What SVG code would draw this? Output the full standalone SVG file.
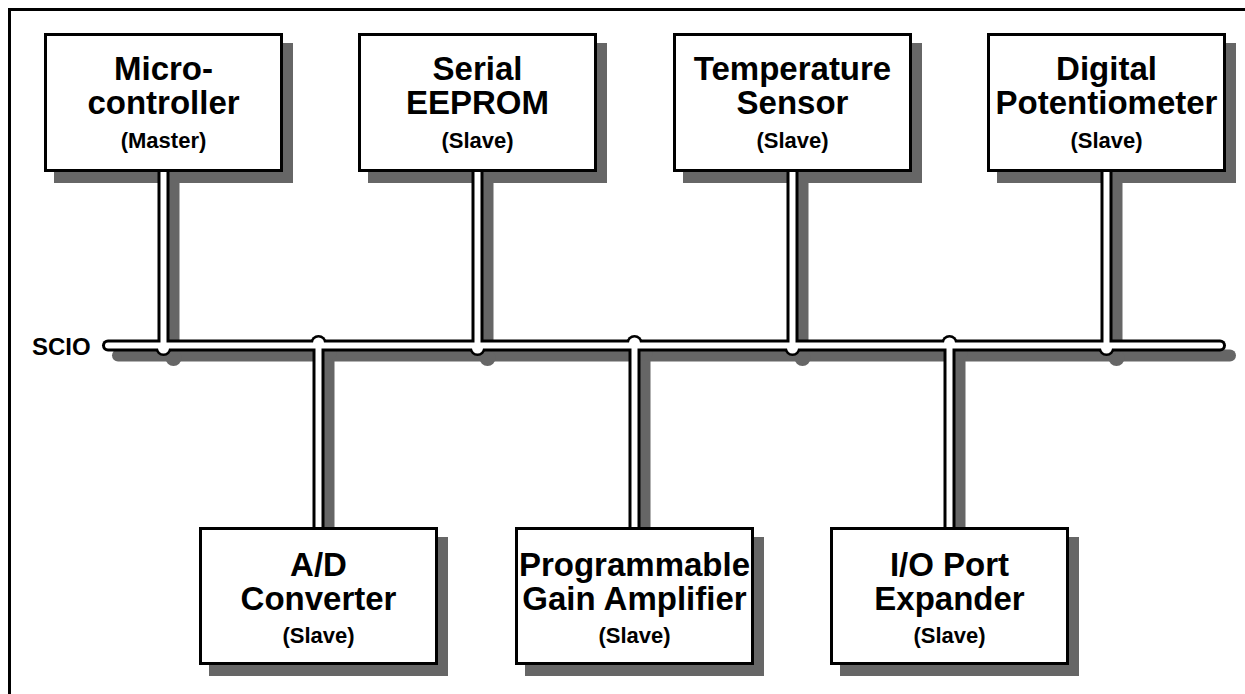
<svg xmlns="http://www.w3.org/2000/svg" width="1245" height="694" viewBox="0 0 1245 694">
<style>
.sh{fill:#666666}
.box{fill:#ffffff;stroke:#000000;stroke-width:3}
.t{font-family:"Liberation Sans",Arial,Helvetica,sans-serif;font-weight:bold;fill:#000000;text-anchor:middle}
.big{font-size:33px}
.small{font-size:22px}
.lsh{stroke:#666666;stroke-width:12;fill:none}
.lb{stroke:#000000;stroke-width:12;fill:none}
.lw{stroke:#ffffff;stroke-width:6;fill:none}
</style>
<rect x="0" y="0" width="1245" height="694" fill="#ffffff"/>
<rect x="9.5" y="9.5" width="1250" height="700" fill="none" stroke="#000000" stroke-width="3"/>

<g id="shadows">
<rect class="sh" x="54" y="43" width="239" height="140"/>
<rect class="sh" x="368" y="43" width="239" height="140"/>
<rect class="sh" x="683" y="43" width="239" height="140"/>
<rect class="sh" x="997" y="43" width="239" height="140"/>
<rect class="sh" x="209" y="537" width="239" height="139"/>
<rect class="sh" x="525" y="537" width="239" height="139"/>
<rect class="sh" x="840" y="537" width="239" height="139"/>
<g class="lsh">
<line x1="118" y1="355.5" x2="1230" y2="355.5" stroke-linecap="round"/>
<line x1="173.5" y1="182" x2="173.5" y2="355.5"/>
<line x1="487.5" y1="182" x2="487.5" y2="355.5"/>
<line x1="802.5" y1="182" x2="802.5" y2="355.5"/>
<line x1="1116.5" y1="182" x2="1116.5" y2="355.5"/>
<line x1="328.5" y1="355.5" x2="328.5" y2="537"/>
<line x1="644.5" y1="355.5" x2="644.5" y2="537"/>
<line x1="959.5" y1="355.5" x2="959.5" y2="537"/>
</g>
<g class="sh">
<circle cx="173.5" cy="358" r="8"/>
<circle cx="328.5" cy="353" r="8"/>
<circle cx="487.5" cy="358" r="8"/>
<circle cx="644.5" cy="353" r="8"/>
<circle cx="802.5" cy="358" r="8"/>
<circle cx="959.5" cy="353" r="8"/>
<circle cx="1116.5" cy="358" r="8"/>
</g>
</g>

<g id="microcontroller">
<rect class="box" x="45.5" y="34.5" width="236" height="136"/>
<text class="t big" x="163.5" y="80">Micro-</text>
<text class="t big" x="163.5" y="114">controller</text>
<text class="t small" x="163.5" y="148">(Master)</text>
</g>
<g id="eeprom">
<rect class="box" x="359.5" y="34.5" width="236" height="136"/>
<text class="t big" x="477.5" y="80">Serial</text>
<text class="t big" x="477.5" y="114">EEPROM</text>
<text class="t small" x="477.5" y="148">(Slave)</text>
</g>
<g id="tempsensor">
<rect class="box" x="674.5" y="34.5" width="236" height="136"/>
<text class="t big" x="792.5" y="80">Temperature</text>
<text class="t big" x="792.5" y="114">Sensor</text>
<text class="t small" x="792.5" y="148">(Slave)</text>
</g>
<g id="digipot">
<rect class="box" x="988.5" y="34.5" width="236" height="136"/>
<text class="t big" x="1106.5" y="80">Digital</text>
<text class="t big" x="1106.5" y="114">Potentiometer</text>
<text class="t small" x="1106.5" y="148">(Slave)</text>
</g>
<g id="adc">
<rect class="box" x="200.5" y="528.5" width="236" height="135"/>
<text class="t big" x="318.5" y="576">A/D</text>
<text class="t big" x="318.5" y="610">Converter</text>
<text class="t small" x="318.5" y="643">(Slave)</text>
</g>
<g id="pga">
<rect class="box" x="516.5" y="528.5" width="236" height="135"/>
<text class="t big" x="634.5" y="576">Programmable</text>
<text class="t big" x="634.5" y="610">Gain Amplifier</text>
<text class="t small" x="634.5" y="643">(Slave)</text>
</g>
<g id="ioexpander">
<rect class="box" x="831.5" y="528.5" width="236" height="135"/>
<text class="t big" x="949.5" y="576">I/O Port</text>
<text class="t big" x="949.5" y="610">Expander</text>
<text class="t small" x="949.5" y="643">(Slave)</text>
</g>

<g id="connectors">
<g class="lb">
<line x1="108" y1="345.5" x2="1220" y2="345.5" stroke-linecap="round"/>
<line x1="163.5" y1="172" x2="163.5" y2="345.5"/>
<line x1="477.5" y1="172" x2="477.5" y2="345.5"/>
<line x1="792.5" y1="172" x2="792.5" y2="345.5"/>
<line x1="1106.5" y1="172" x2="1106.5" y2="345.5"/>
<line x1="318.5" y1="345.5" x2="318.5" y2="527"/>
<line x1="634.5" y1="345.5" x2="634.5" y2="527"/>
<line x1="949.5" y1="345.5" x2="949.5" y2="527"/>
</g>
<g fill="#000000">
<circle cx="163.5" cy="348" r="8"/>
<circle cx="318.5" cy="343" r="8"/>
<circle cx="477.5" cy="348" r="8"/>
<circle cx="634.5" cy="343" r="8"/>
<circle cx="792.5" cy="348" r="8"/>
<circle cx="949.5" cy="343" r="8"/>
<circle cx="1106.5" cy="348" r="8"/>
</g>
<g class="lw">
<line x1="108" y1="345.5" x2="1220" y2="345.5" stroke-linecap="round"/>
<line x1="163.5" y1="172" x2="163.5" y2="345.5"/>
<line x1="477.5" y1="172" x2="477.5" y2="345.5"/>
<line x1="792.5" y1="172" x2="792.5" y2="345.5"/>
<line x1="1106.5" y1="172" x2="1106.5" y2="345.5"/>
<line x1="318.5" y1="345.5" x2="318.5" y2="527"/>
<line x1="634.5" y1="345.5" x2="634.5" y2="527"/>
<line x1="949.5" y1="345.5" x2="949.5" y2="527"/>
</g>
<g fill="#ffffff">
<circle cx="163.5" cy="348" r="5.5"/>
<circle cx="318.5" cy="343" r="5.5"/>
<circle cx="477.5" cy="348" r="5.5"/>
<circle cx="634.5" cy="343" r="5.5"/>
<circle cx="792.5" cy="348" r="5.5"/>
<circle cx="949.5" cy="343" r="5.5"/>
<circle cx="1106.5" cy="348" r="5.5"/>
</g>
</g>

<text id="scio" class="t" x="32" y="355" style="font-size:24px;text-anchor:start">SCIO</text>
</svg>
